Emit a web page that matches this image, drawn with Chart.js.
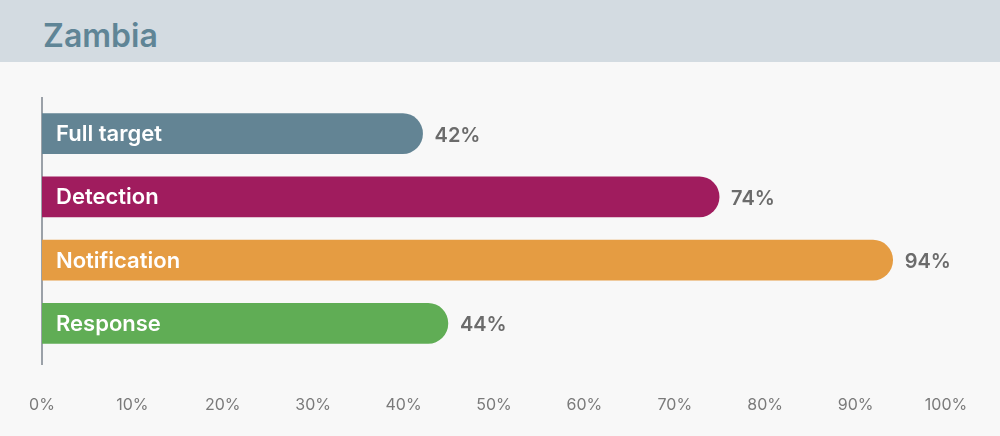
<!DOCTYPE html>
<html lang="en">
<head>
  <meta charset="UTF-8" />
  <title>Zambia</title>
  <script src="https://cdn.jsdelivr.net/npm/chart.js"></script>
  <style>
    body {
      margin: 0;
      width: 1000px;
      height: 436px;
      background-color: #f8f8f8;
      font-family: 'Inter', sans-serif;
      overflow: hidden;
    }

    .header {
      height: 62px;
      background-color: #d3dbe1;
      box-sizing: border-box;
      padding-left: 43px;
      line-height: 72px;
      font-size: 32px;
      font-weight: 600;
      color: #5f8596;
    }

    .chart-box {
      position: relative;
      width: 1000px;
      height: 374px;
    }
  </style>
</head>
<body>
  <div class="header">Zambia</div>
  <div class="chart-box"><canvas id="zambiaChart"></canvas></div>

  <script>
    const categories = ['Full target', 'Detection', 'Notification', 'Response'];
    // bar lengths as drawn; labels show the whole percent
    const values = [42.1, 74.9, 94.1, 44.9];
    const barColors = ['#638494', '#a01c5e', '#e59c42', '#60ad55'];
    const tickValues = [0, 10, 20, 30, 40, 50, 60, 70, 80, 90, 100];

    // vertical axis line, a bit longer than the plot area
    const axisLine = {
      id: 'axisLine',
      beforeDatasetsDraw(chart) {
        const { ctx, chartArea } = chart;
        ctx.save();
        ctx.strokeStyle = '#9ba1a8';
        ctx.lineWidth = 2;
        ctx.beginPath();
        ctx.moveTo(chartArea.left, chartArea.top - 5);
        ctx.lineTo(chartArea.left, chartArea.bottom + 10);
        ctx.stroke();
        ctx.restore();
      }
    };

    // category names inside the bars, values after them
    const barLabels = {
      id: 'barLabels',
      afterDatasetsDraw(chart) {
        const { ctx } = chart;
        const meta = chart.getDatasetMeta(0);
        ctx.save();
        ctx.textBaseline = 'middle';
        ctx.textAlign = 'left';
        meta.data.forEach((bar, i) => {
          ctx.font = '600 22px Inter, sans-serif';
          ctx.fillStyle = '#ffffff';
          ctx.fillText(categories[i], bar.base + 14, bar.y + 1);
          ctx.font = '600 20px Inter, sans-serif';
          ctx.fillStyle = '#6b6b6b';
          ctx.fillText(Math.floor(values[i]) + '%', bar.x + 12, bar.y + 2);
        });
        ctx.restore();
      }
    };

    new Chart(document.getElementById('zambiaChart'), {
      type: 'bar',
      data: {
        labels: categories,
        datasets: [
          {
            data: values,
            backgroundColor: barColors,
            borderRadius: 20,
            borderSkipped: 'start',
            barThickness: 40
          }
        ]
      },
      options: {
        indexAxis: 'y',
        responsive: true,
        maintainAspectRatio: false,
        animation: false,
        layout: {
          padding: { left: 42, right: 54, top: 40, bottom: 0 }
        },
        plugins: {
          legend: { display: false },
          tooltip: { enabled: false }
        },
        scales: {
          x: {
            min: 0,
            max: 100,
            afterBuildTicks(axis) {
              axis.ticks = tickValues.map(v => ({ value: v }));
            },
            afterFit(axis) {
              axis.height = 81;
            },
            grid: { display: false, drawTicks: true, tickLength: 38 },
            border: { display: false },
            ticks: {
              color: '#7a7a7a',
              padding: 3,
              font: { family: 'Inter', size: 16 },
              callback: v => v + '%'
            }
          },
          y: {
            display: false
          }
        }
      },
      plugins: [axisLine, barLabels]
    });
  </script>
</body>
</html>
